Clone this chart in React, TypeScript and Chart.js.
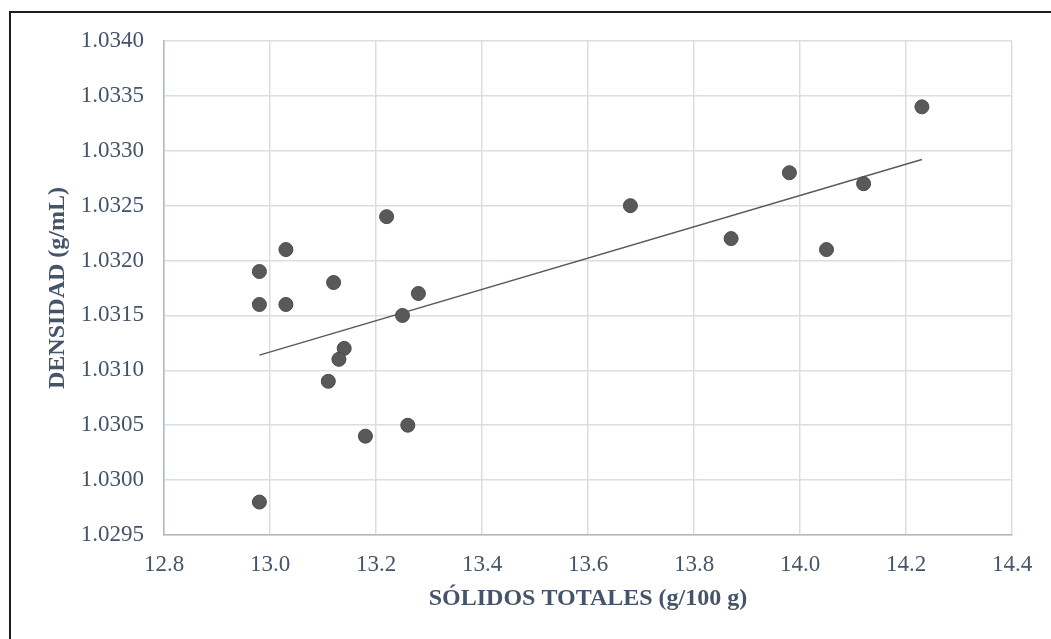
import React, { useEffect, useRef } from "react";
import { Chart, registerables } from "chart.js";

Chart.register(...registerables);

const solidosTotales: number[] = [
  12.98, 12.98, 12.98, 13.03, 13.03, 13.12, 13.22, 13.28, 13.25, 13.14,
  13.13, 13.11, 13.18, 13.26, 13.68, 13.87, 13.98, 14.05, 14.12, 14.23,
];
const densidad: number[] = [
  1.0319, 1.0316, 1.0298, 1.0321, 1.0316, 1.0318, 1.0324, 1.0317, 1.0315, 1.0312,
  1.0311, 1.0309, 1.0304, 1.0305, 1.0325, 1.0322, 1.0328, 1.0321, 1.0327, 1.0334,
];
const xTitle = "SÓLIDOS TOTALES (g/100 g)";
const yTitle = "DENSIDAD (g/mL)";
const xRange = { min: 12.8, max: 14.4, step: 0.2 };
const yRange = { min: 1.0295, max: 1.034, step: 0.0005 };

function linearTrend(xs: number[], ys: number[]) {
  const n = xs.length;
  const mx = xs.reduce((a, b) => a + b, 0) / n;
  const my = ys.reduce((a, b) => a + b, 0) / n;
  let sxy = 0;
  let sxx = 0;
  for (let i = 0; i < n; i++) {
    sxy += (xs[i] - mx) * (ys[i] - my);
    sxx += (xs[i] - mx) * (xs[i] - mx);
  }
  const slope = sxy / sxx;
  const icpt = my - slope * mx;
  const x0 = Math.min(...xs);
  const x1 = Math.max(...xs);
  return [
    { x: x0, y: icpt + slope * x0 },
    { x: x1, y: icpt + slope * x1 },
  ];
}

const TEXT = "#44546a";
const FONT = "'Liberation Serif', 'Times New Roman', serif";

export default function App() {
  const ref = useRef<HTMLCanvasElement | null>(null);

  useEffect(() => {
    if (!ref.current) return;
    const points = solidosTotales.map((x, i) => ({ x, y: densidad[i] }));
    const chart = new Chart(ref.current, {
      type: "scatter",
      data: {
        datasets: [
          {
            label: "Densidad",
            data: points,
            backgroundColor: "#595959",
            borderColor: "#4a4a4a",
            borderWidth: 1,
            pointRadius: 7,
            order: 1,
          },
          {
            label: "Tendencia",
            data: linearTrend(solidosTotales, densidad),
            showLine: true,
            borderColor: "#595959",
            borderWidth: 1.5,
            pointRadius: 0,
            fill: false,
            order: 2,
          } as any,
        ],
      },
      options: {
        animation: false,
        responsive: false,
        devicePixelRatio: 1,
        layout: { padding: { top: 41, right: 39, bottom: 0, left: 0 } },
        plugins: {
          legend: { display: false },
          tooltip: { enabled: false },
        },
        scales: {
          x: {
            type: "linear",
            min: xRange.min,
            max: xRange.max,
            afterFit: (s: any) => {
              s.height = 104;
            },
            ticks: {
              stepSize: xRange.step,
              color: TEXT,
              font: { family: FONT, size: 23 },
              padding: 16,
              callback: (v: any) => Number(v).toFixed(1),
            },
            grid: { color: "#d9dee6", lineWidth: 1.5, drawTicks: false },
            border: { color: "#aeb9c9", width: 1.5 },
            title: {
              display: true,
              text: xTitle,
              color: TEXT,
              font: { family: FONT, size: 24, weight: "bold" },
              padding: { top: 0, bottom: 26 },
            },
          },
          y: {
            type: "linear",
            min: yRange.min,
            max: yRange.max,
            afterFit: (s: any) => {
              s.width = 164;
            },
            ticks: {
              stepSize: yRange.step,
              color: TEXT,
              font: { family: FONT, size: 23 },
              padding: 20,
              callback: (v: any) => Number(v).toFixed(4),
            },
            grid: { color: "#d9dee6", lineWidth: 1.5, drawTicks: false },
            border: { color: "#aeb9c9", width: 1.5 },
            title: {
              display: true,
              text: yTitle,
              color: TEXT,
              font: { family: FONT, size: 24, weight: "bold" },
              padding: { top: 43, bottom: 0 },
            },
          },
        },
      },
    });
    return () => chart.destroy();
  }, []);

  return (
    <div
      style={{
        position: "absolute",
        left: 0,
        top: 0,
        width: 1051,
        height: 639,
        overflow: "hidden",
        background: "#fff",
      }}
    >
      <canvas ref={ref} width={1051} height={639} style={{ position: "absolute", left: 0, top: 0 }} />
      <div
        style={{
          position: "absolute",
          left: 9,
          top: 11,
          width: 1042,
          height: 628,
          boxSizing: "border-box",
          borderTop: "2px solid #1c1c1c",
          borderLeft: "2px solid #1c1c1c",
          pointerEvents: "none",
        }}
      />
    </div>
  );
}
